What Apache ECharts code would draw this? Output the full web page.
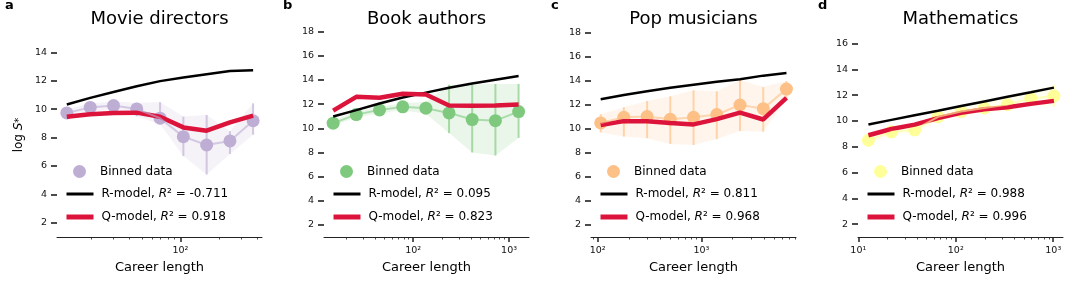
<!DOCTYPE html>
<html><head><meta charset="utf-8">
<script src="https://cdn.jsdelivr.net/npm/echarts@6/dist/echarts.min.js"></script>
<style>html,body{margin:0;padding:0;background:#fff}#c{width:1080px;height:288px}</style>
</head><body><div id="c"></div>
<script>
// ---------- data ----------
const titles = ['Movie directors', 'Book authors', 'Pop musicians', 'Mathematics'];
const letters = ['a', 'b', 'c', 'd'];
const rModelR2 = ['-0.711', '0.095', '0.811', '0.988'];
const qModelR2 = ['0.918', '0.823', '0.968', '0.996'];
const binColors = ['#beaed4', '#7fc97f', '#fdc086', '#ffff99'];

// Movie directors
const xA    = [13.0, 19.8, 30.1, 45.7, 69.5, 105.6, 160.5, 244, 370];
const meanA = [9.74, 10.13, 10.26, 10.02, 9.37, 8.07, 7.48, 7.77, 9.19];
const loA   = [9.45, 9.85, 9.95, 9.5, 8.95, 6.7, 5.4, 6.85, 8.2];
const hiA   = [10.0, 10.4, 10.55, 10.45, 10.5, 9.48, 9.6, 8.45, 10.42];
const rA    = [10.33, 10.80, 11.22, 11.62, 11.98, 12.23, 12.47, 12.70, 12.75];
const qA    = [9.47, 9.64, 9.74, 9.76, 9.47, 8.72, 8.49, 9.08, 9.55];
const yTicksA = [2, 4, 6, 8, 10, 12, 14];
const xTicksA = [100];

// Book authors
const xB    = [14.7, 25.6, 44.7, 78.0, 136, 237, 413, 721, 1258];
const meanB = [10.42, 11.13, 11.52, 11.77, 11.66, 11.27, 10.72, 10.63, 11.38];
const loB   = [10.2, 10.9, 11.25, 11.5, 11.2, 9.6, 8.0, 7.75, 9.2];
const hiB   = [10.65, 11.4, 11.8, 12.05, 12.2, 13.6, 13.6, 13.67, 13.67];
const rB    = [10.97, 11.5, 12.05, 12.55, 12.95, 13.35, 13.7, 14.02, 14.33];
const qB    = [11.46, 12.6, 12.52, 12.85, 12.8, 11.89, 11.86, 11.89, 11.97];
const yTicksB = [2, 4, 6, 8, 10, 12, 14, 16, 18];
const xTicksB = [100, 1000];

// Pop musicians
const xC    = [107, 179, 300, 502, 841, 1409, 2360, 3954, 6622];
const meanC = [10.47, 10.94, 11.0, 10.78, 10.94, 11.17, 11.96, 11.66, 13.28];
const loC   = [9.68, 9.34, 9.2, 8.73, 8.64, 9.13, 9.8, 9.75, 12.5];
const hiC   = [11.2, 11.77, 12.3, 12.68, 13.18, 13.1, 14.04, 13.45, 13.95];
const rC    = [12.44, 12.8, 13.1, 13.4, 13.65, 13.9, 14.1, 14.4, 14.62];
const qC    = [10.3, 10.62, 10.62, 10.47, 10.35, 10.79, 11.33, 10.76, 12.56];
const yTicksC = [2, 4, 6, 8, 10, 12, 14, 16, 18];
const xTicksC = [100, 1000];

// Mathematics
const xD    = [12.7, 21.9, 37.9, 65.6, 113.5, 196.3, 339.6, 587.5, 1016];
const meanD = [8.5, 9.15, 9.3, 10.32, 10.72, 11.0, 11.26, 11.74, 11.93];
const loD   = [8.2, 8.9, 9.05, 10.0, 10.35, 10.6, 10.8, 11.2, 11.1];
const hiD   = [8.8, 9.4, 9.6, 10.65, 11.05, 11.5, 11.8, 12.3, 12.8];
const rD    = [9.72, 10.08, 10.44, 10.79, 11.15, 11.51, 11.87, 12.22, 12.58];
const qD    = [8.89, 9.37, 9.71, 10.21, 10.62, 10.9, 11.06, 11.32, 11.55];
const yTicksD = [2, 4, 6, 8, 10, 12, 14, 16];
const xTicksD = [10, 100, 1000];

// ---------- layout ----------
const panels = [
  {x: xA, mean: meanA, lo: loA, hi: hiA, r: rA, q: qA, yTicks: yTicksA, xTicks: xTicksA},
  {x: xB, mean: meanB, lo: loB, hi: hiB, r: rB, q: qB, yTicks: yTicksB, xTicks: xTicksB},
  {x: xC, mean: meanC, lo: loC, hi: hiC, r: rC, q: qC, yTicks: yTicksC, xTicks: xTicksC},
  {x: xD, mean: meanD, lo: loD, hi: hiD, r: rD, q: qD, yTicks: yTicksD, xTicks: xTicksD}
];
const layout = [
  {left: 57,  top: 33, xMin: 10.9, xMax: 434,  yMax: 15.37},
  {left: 324, top: 20, xMin: 11.8, xMax: 1614, yMax: 18.96},
  {left: 591, top: 20, xMin: 86.3, xMax: 8185, yMax: 19.02},
  {left: 858, top: 20, xMin: 9.93, xMax: 1259, yMax: 17.82}
];
const GW = 205, GB = 51, FONT = 'DejaVu Sans';
const SUP = {'0':'\u2070','1':'\u00b9','2':'\u00b2','3':'\u00b3','4':'\u2074'};
function decadeLabel(v) {
  const e = Math.round(Math.log10(v));
  return '10' + String(e).split('').map(c => SUP[c]).join('');
}
function minorTicks(min, max) {
  const out = [];
  for (let k = Math.floor(Math.log10(min)); k <= Math.ceil(Math.log10(max)); k++) {
    for (let m = 2; m <= 9; m++) { const v = m * Math.pow(10, k); if (v >= min && v <= max) out.push(v); }
  }
  return out;
}

const grid = [], xAxis = [], yAxis = [], series = [], legend = [], title = [];
panels.forEach((p, i) => {
  const L = layout[i];
  const col = binColors[i];
  grid.push({left: L.left, width: GW, top: L.top, bottom: GB, outerBoundsMode: 'none', containLabel: false});
  xAxis.push({
    type: 'log', logBase: 10, gridIndex: i, min: L.xMin, max: L.xMax, position: 'bottom',
    axisLine: {show: true, lineStyle: {color: '#222', width: 1}},
    axisTick: {show: true, customValues: p.xTicks, length: 5, lineStyle: {color: '#222', width: 1.5}},
    axisLabel: {show: true, customValues: p.xTicks, formatter: v => decadeLabel(v), fontSize: 9.5, fontFamily: FONT, color: '#111', margin: 9},
    splitLine: {show: false}, minorTick: {show: false}, minorSplitLine: {show: false},
    name: 'Career length', nameLocation: 'middle', nameGap: 23,
    nameTextStyle: {fontSize: 13, fontFamily: FONT, color: '#000'}
  });
  xAxis.push({
    type: 'log', logBase: 10, gridIndex: i, min: L.xMin, max: L.xMax, position: 'bottom',
    axisLine: {show: false},
    axisTick: {show: true, customValues: minorTicks(L.xMin, L.xMax), length: 2.5, lineStyle: {color: '#222', width: 0.8}},
    axisLabel: {show: false}, splitLine: {show: false}
  });
  const yA = {
    type: 'value', gridIndex: i, min: 1, max: L.yMax,
    axisLine: {show: false},
    axisTick: {show: true, customValues: p.yTicks, length: 6, lineStyle: {color: '#111', width: 1.5}},
    axisLabel: {show: true, customValues: p.yTicks, fontSize: 9.5, fontFamily: FONT, color: '#111', margin: 10},
    splitLine: {show: false}
  };
  if (i === 0) {
    yA.name = '{n|log }{i|S}{s|*}';
    yA.nameLocation = 'middle';
    yA.nameGap = 32;
    yA.nameTextStyle = {fontSize: 12, fontFamily: FONT, color: '#000', rich: {
      n: {fontSize: 12, fontFamily: FONT, color: '#000'},
      i: {fontSize: 12, fontFamily: FONT, fontStyle: 'italic', color: '#000'},
      s: {fontSize: 10, fontFamily: FONT, color: '#000'}
    }};
  }
  yAxis.push(yA);

  const xi = i * 2, yi = i;
  // shaded band
  series.push({
    type: 'custom', xAxisIndex: xi, yAxisIndex: yi, silent: true, z: 1,
    data: [[p.x[0], p.mean[0]]],
    renderItem: (params, api) => {
      const pts = [];
      for (let k = 0; k < p.x.length; k++) pts.push(api.coord([p.x[k], p.hi[k]]));
      for (let k = p.x.length - 1; k >= 0; k--) pts.push(api.coord([p.x[k], p.lo[k]]));
      return {type: 'polygon', shape: {points: pts}, style: {fill: col, opacity: 0.16}};
    }
  });
  // error bars
  series.push({
    type: 'custom', xAxisIndex: xi, yAxisIndex: yi, silent: true, z: 2,
    data: p.x.map((v, k) => [v, p.lo[k], p.hi[k]]),
    encode: {x: 0, y: [1, 2]},
    renderItem: (params, api) => {
      const a = api.coord([api.value(0), api.value(1)]);
      const b = api.coord([api.value(0), api.value(2)]);
      return {type: 'line', shape: {x1: a[0], y1: a[1], x2: b[0], y2: b[1]},
              style: {stroke: col, lineWidth: 2, opacity: 0.65}};
    }
  });
  // markers
  series.push({
    name: 'bin' + i, type: 'scatter', xAxisIndex: xi, yAxisIndex: yi, silent: true, z: 3,
    symbol: 'circle', symbolSize: 13, itemStyle: {color: col, opacity: 1},
    data: p.x.map((v, k) => [v, p.mean[k]])
  });
  // R-model
  series.push({
    name: 'R' + i, type: 'line', xAxisIndex: xi, yAxisIndex: yi, silent: true, z: 4,
    symbol: 'none', lineStyle: {color: '#000', width: 2.5}, itemStyle: {color: '#000'},
    data: p.x.map((v, k) => [v, p.r[k]])
  });
  // Q-model
  series.push({
    name: 'Q' + i, type: 'line', xAxisIndex: xi, yAxisIndex: yi, silent: true, z: 5,
    symbol: 'none', lineStyle: {color: '#dc143c', width: 4.5}, itemStyle: {color: '#dc143c'},
    data: p.x.map((v, k) => [v, p.q[k]])
  });
  // connecting line of binned data
  series.push({
    type: 'line', xAxisIndex: xi, yAxisIndex: yi, silent: true, z: 6,
    symbol: 'none', lineStyle: {color: col, width: 2, opacity: 0.6},
    data: p.x.map((v, k) => [v, p.mean[k]])
  });

  const rich = {
    n: {fontSize: 12, fontFamily: FONT, color: '#000'},
    i: {fontSize: 12, fontFamily: FONT, fontStyle: 'italic', color: '#000'}
  };
  const labels = {
    ['bin' + i]: '{n|Binned data}',
    ['R' + i]: '{n|R-model, }{i|R}{n|\u00b2 = ' + rModelR2[i] + '}',
    ['Q' + i]: '{n|Q-model, }{i|R}{n|\u00b2 = ' + qModelR2[i] + '}'
  };
  const items = [
    {name: 'bin' + i, icon: 'circle', w: 13, h: 13, dx: 16, cy: 172, color: col, pad: 9},
    {name: 'R' + i, icon: 'rect', w: 27, h: 3, dx: 9.5, cy: 195, color: '#000', pad: 3},
    {name: 'Q' + i, icon: 'rect', w: 27, h: 5, dx: 9.5, cy: 218, color: '#dc143c', pad: 3}
  ];
  items.forEach(it => {
    legend.push({
      left: L.left + it.dx, top: it.cy - 7, padding: 0, selectedMode: false,
      itemWidth: it.w, itemHeight: it.h,
      data: [{name: it.name, icon: it.icon, itemStyle: {color: it.color, borderWidth: 0}}],
      formatter: name => labels[name],
      textStyle: {fontSize: 12, fontFamily: FONT, color: '#000', padding: [0, 0, 0, it.pad], rich: rich}
    });
  });

  title.push({
    text: titles[i], left: L.left + GW / 2, top: 10, padding: 0, textAlign: 'center',
    textStyle: {fontSize: 18, fontWeight: 'normal', fontFamily: FONT, color: '#000'}
  });
  title.push({
    text: letters[i], left: [5, 283, 551, 818][i], top: -1, padding: 0,
    textStyle: {fontSize: 13, fontWeight: 'bold', fontFamily: FONT, color: '#000'}
  });
});

const chart = echarts.init(document.getElementById('c'), null, {renderer: 'canvas'});
chart.setOption({
  animation: false,
  backgroundColor: '#fff',
  title: title, grid: grid, xAxis: xAxis, yAxis: yAxis, legend: legend, series: series
});
</script>
</body></html>
